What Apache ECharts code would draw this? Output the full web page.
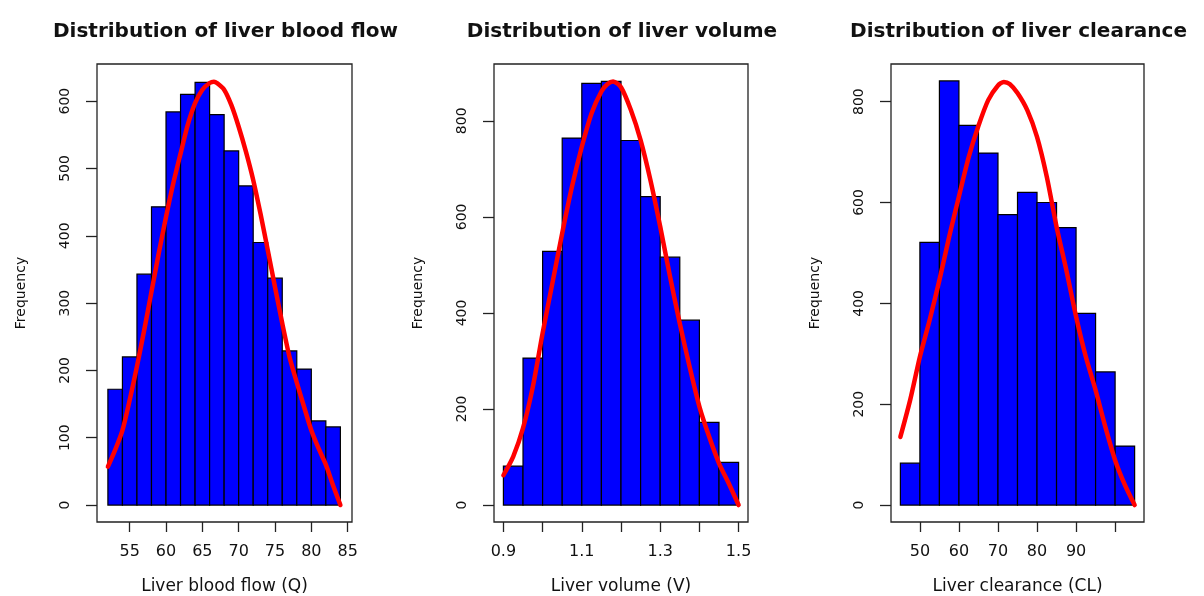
<!DOCTYPE html>
<html>
<head>
<meta charset="utf-8">
<script src="https://cdn.jsdelivr.net/npm/echarts@6/dist/echarts.min.js"></script>
<style>
  html, body { margin: 0; padding: 0; background: #fff; }
  #chart { width: 1204px; height: 596px; }
</style>
</head>
<body>
<div id="chart"></div>
<script>
// histogram breaks + counts
var flowBreaks = [52, 54, 56, 58, 60, 62, 64, 66, 68, 70, 72, 74, 76, 78, 80, 82, 84];
var flowCounts = [172, 220, 343, 443, 584, 610, 628, 580, 526, 474, 390, 337, 229, 202, 125, 116];
// red fitted curve (points traced)
var flowCurveX = [52, 53, 54, 55, 56, 57, 58, 59, 60, 61, 62, 63, 64, 65, 66, 66.6, 67, 68, 69, 70, 71, 72, 73, 74, 75, 76, 77, 78, 79, 80, 81, 82, 83, 84];
var flowCurveY = [57, 82, 111, 156, 206, 260, 317, 374, 428, 478, 522, 565, 597, 617, 627, 629, 627, 617, 594, 562, 525, 483, 433, 379, 324, 270, 220, 182, 146, 111, 84, 60, 29, 0];

var volBreaks = [0.90, 0.95, 1.00, 1.05, 1.10, 1.15, 1.20, 1.25, 1.30, 1.35, 1.40, 1.45, 1.50];
var volCounts = [81, 306, 528, 764, 878, 882, 759, 642, 516, 385, 172, 89];
var volCurveX = [0.9, 0.925, 0.95, 0.975, 1.0, 1.025, 1.05, 1.075, 1.1, 1.125, 1.15, 1.165, 1.18, 1.2, 1.225, 1.25, 1.275, 1.3, 1.325, 1.35, 1.375, 1.4, 1.425, 1.45, 1.475, 1.5];
var volCurveY = [62, 101, 160, 246, 358, 462, 566, 663, 746, 816, 861, 876, 882, 870, 823, 760, 677, 580, 476, 378, 288, 205, 142, 87, 45, 0];

var clBreaks = [45, 50, 55, 60, 65, 70, 75, 80, 85, 90, 95, 100, 105];
var clCounts = [83, 521, 841, 753, 698, 576, 620, 600, 550, 380, 264, 117];
var clCurveX = [45, 47.5, 50, 52.5, 55, 57.5, 60, 62.5, 65, 67.5, 70, 71.5, 73, 75, 77.5, 80, 82.5, 85, 87.5, 90, 92.5, 95, 97.5, 100, 102.5, 105];
var clCurveY = [135, 208, 294, 367, 446, 532, 612, 690, 752, 803, 832, 839, 835, 817, 783, 730, 651, 552, 466, 374, 294, 228, 155, 89, 40, 0];

var titles = ['Distribution of liver blood flow', 'Distribution of liver volume', 'Distribution of liver clearance'];
var xNames = ['Liver blood flow (Q)', 'Liver volume (V)', 'Liver clearance (CL)'];

var flowTicks = [55, 60, 65, 70, 75, 80, 85];
var volTicks = [0.9, 1.0, 1.1, 1.2, 1.3, 1.4, 1.5];
var volLabels = [0.9, 1.1, 1.3, 1.5];
var clTicks = [50, 60, 70, 80, 90, 100];
var clLabels = [50, 60, 70, 80, 90];
var flowYTicks = [0, 100, 200, 300, 400, 500, 600];
var bigYTicks = [0, 200, 400, 600, 800];

var FONT = 'DejaVu Sans';

var panels = [
  {breaks: flowBreaks, counts: flowCounts, cx: flowCurveX, cy: flowCurveY, xmin: 50.5, xmax: 85.6, ymax: 630,
   xt: flowTicks, xl: flowTicks, yt: flowYTicks, left: 97, width: 255, fmt: function (v) { return String(v); }},
  {breaks: volBreaks, counts: volCounts, cx: volCurveX, cy: volCurveY, xmin: 0.876, xmax: 1.524, ymax: 883,
   xt: volTicks, xl: volLabels, yt: bigYTicks, left: 494, width: 254, fmt: function (v) { return v.toFixed(1); }},
  {breaks: clBreaks, counts: clCounts, cx: clCurveX, cy: clCurveY, xmin: 42.6, xmax: 107.4, ymax: 841,
   xt: clTicks, xl: clLabels, yt: bigYTicks, left: 891, width: 253, fmt: function (v) { return String(v); }}
];

function histRender(params, api) {
  var p0 = api.coord([api.value(0), api.value(2)]);
  var p1 = api.coord([api.value(1), 0]);
  return {
    type: 'rect',
    shape: {x: p0[0], y: p0[1], width: p1[0] - p0[0], height: p1[1] - p0[1]},
    style: {fill: '#0000ff', stroke: '#000', lineWidth: 1.2}
  };
}

var option = {
  animation: false,
  backgroundColor: '#fff',
  title: [], grid: [], xAxis: [], yAxis: [], series: []
};

panels.forEach(function (p, i) {
  option.title.push({
    text: titles[i], left: p.left + p.width / 2 - 4, top: 17, textAlign: 'center',
    textStyle: {fontFamily: FONT, fontWeight: 'bold', fontSize: 20, color: '#111'}
  });
  // keep the plot box where it is, labels may hang outside
  option.grid.push({left: p.left, top: 64, width: p.width, height: 458, show: true, outerBoundsMode: 'none',
    borderColor: '#222', borderWidth: 1.3, backgroundColor: 'transparent'});
  option.xAxis.push({
    type: 'value', gridIndex: i, min: p.xmin, max: p.xmax,
    name: xNames[i], nameLocation: 'middle', nameGap: 56,
    nameTextStyle: {fontFamily: FONT, fontSize: 17, color: '#111'},
    axisLine: {show: false, onZero: false},
    axisTick: {show: true, inside: false, length: 10, customValues: p.xt, lineStyle: {color: '#222', width: 1.3}},
    axisLabel: {customValues: p.xl, margin: 22, fontFamily: FONT, fontSize: 16, color: '#111', formatter: p.fmt},
    splitLine: {show: false}
  });
  var ylo = -0.04 * p.ymax, yhi = 1.04 * p.ymax;
  option.yAxis.push({
    type: 'value', gridIndex: i, min: ylo, max: yhi,
    name: 'Frequency', nameLocation: 'middle', nameGap: 69,
    nameTextStyle: {fontFamily: FONT, fontSize: 14, color: '#111'},
    axisLine: {show: false},
    axisTick: {show: true, inside: false, length: 11, customValues: p.yt, lineStyle: {color: '#222', width: 1.3}},
    axisLabel: {customValues: p.yt, rotate: 90, margin: 25, fontFamily: FONT, fontSize: 14, color: '#111'},
    splitLine: {show: false}
  });
  var hist = [];
  for (var k = 0; k < p.counts.length; k++) hist.push([p.breaks[k], p.breaks[k + 1], p.counts[k]]);
  option.series.push({
    type: 'custom', xAxisIndex: i, yAxisIndex: i, renderItem: histRender,
    encode: {x: [0, 1], y: 2}, data: hist, clip: true
  });
  var curve = p.cx.map(function (x, k) { return [x, p.cy[k]]; });
  option.series.push({
    type: 'line', xAxisIndex: i, yAxisIndex: i, data: curve, smooth: 0.25,
    showSymbol: false, lineStyle: {color: '#ff0000', width: 4.5, cap: 'round', join: 'round'}, z: 5
  });
});

var myChart = echarts.init(document.getElementById('chart'));
myChart.setOption(option);
</script>
</body>
</html>
